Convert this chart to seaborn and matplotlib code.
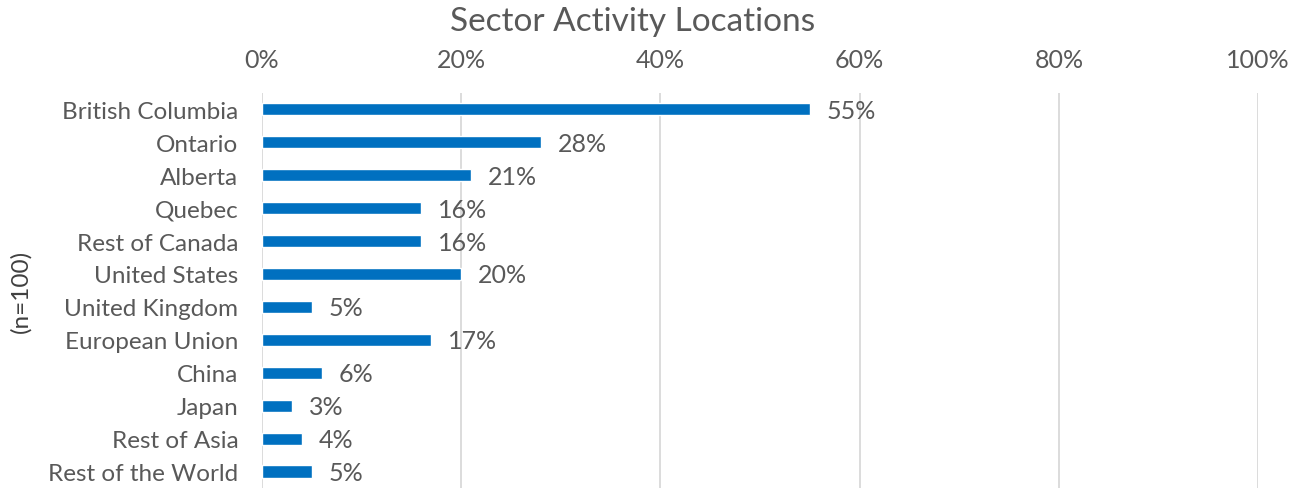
import matplotlib
matplotlib.use("Agg")
import matplotlib.pyplot as plt
import seaborn as sns
import pandas as pd
from matplotlib.ticker import PercentFormatter

# data
locations = ["British Columbia", "Ontario", "Alberta", "Quebec", "Rest of Canada",
             "United States", "United Kingdom", "European Union", "China", "Japan",
             "Rest of Asia", "Rest of the World"]
shares = [55, 28, 21, 16, 16, 20, 5, 17, 6, 3, 4, 5]
x_ticks = [0, 20, 40, 60, 80, 100]

df = pd.DataFrame({"location": locations, "share": shares})

sns.set_theme(style="white")
plt.rcParams["font.family"] = ["Lato", "DejaVu Sans"]
TXT = "#595959"
BLUE = "#0070C0"

fig = plt.figure(figsize=(13.01, 4.89), dpi=100)
ax = fig.add_axes([0.2014, 0.0, 0.7656, 0.808])

sns.barplot(data=df, x="share", y="location", orient="h", color=BLUE,
            width=0.37, saturation=1, ax=ax)

ax.set_xlim(0, 100)
ax.set_ylim(len(locations) - 0.5, -0.5)
ax.set_xticks(x_ticks)
ax.xaxis.set_major_formatter(PercentFormatter(decimals=0))
ax.xaxis.tick_top()
ax.tick_params(axis="x", length=0, pad=16, labelsize=18, labelcolor=TXT)
ax.tick_params(axis="y", length=0, pad=17, labelsize=17.5, labelcolor=TXT)

ax.grid(axis="x", color="#D9D9D9", linewidth=1.3)
ax.set_axisbelow(True)
for s in ax.spines.values():
    s.set_visible(False)

for i, v in enumerate(shares):
    ax.text(v + 1.7, i + 0.03, f"{v}%", va="center", ha="left", fontsize=18,
            color=TXT)

ax.set_xlabel("")
ax.set_ylabel("(n=100)", fontsize=17.5, color="#404040", labelpad=12)
fig.text(0.486, 0.955, "Sector Activity Locations", ha="center", va="center",
         fontsize=24, color=TXT)

fig.savefig("out.png", dpi=100)
